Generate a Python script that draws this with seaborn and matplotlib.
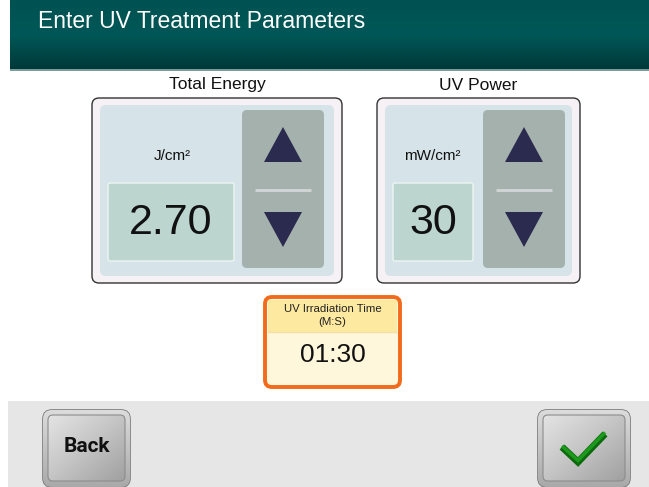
import numpy as np
import matplotlib
matplotlib.use("Agg")
import matplotlib.pyplot as plt
from matplotlib.patches import FancyBboxPatch, Rectangle, Polygon
import seaborn as sns

# screen content
title = "Enter UV Treatment Parameters"
panel_labels = ["Total Energy", "UV Power"]
panel_units = ["J/cm²", "mW/cm²"]
panel_values = ["2.70", "30"]
time_label = ["UV Irradiation Time", "(M:S)"]
time_value = "01:30"
back_label = "Back"

sns.set_theme(style="white")
plt.rcParams["font.family"] = ["Liberation Sans", "DejaVu Sans"]

W, H = 649, 487
fig = plt.figure(figsize=(W / 100, H / 100), dpi=100)
ax = fig.add_axes([0, 0, 1, 1])
ax.set_xlim(0, W)
ax.set_ylim(H, 0)
ax.axis("off")


def rbox(x0, y0, x1, y1, r, fc, ec="none", lw=0, z=1):
    p = FancyBboxPatch((x0 + r, y0 + r), (x1 - x0) - 2 * r, (y1 - y0) - 2 * r,
                       boxstyle=f"round,pad={r}", fc=fc, ec=ec, lw=lw, zorder=z)
    ax.add_patch(p)
    return p


def gradient(x0, y0, x1, y1, stops, z=1, clip=None, diag=False):
    n = 128
    t = np.linspace(0, 1, n)
    if diag:
        g = (t[None, :] + t[:, None]) / 2
    else:
        g = np.repeat(t[:, None], n, axis=1)
    cmap = matplotlib.colors.LinearSegmentedColormap.from_list("g", stops)
    im = ax.imshow(cmap(g), extent=(x0, x1, y1, y0), aspect="auto", zorder=z,
                   interpolation="bilinear")
    if clip is not None:
        im.set_clip_path(clip)
    return im


# header
gradient(10, 0, W, 70, [(0, "#005252"), (0.5, "#005757"), (1, "#003838")], z=1)
ax.add_patch(Rectangle((10, 69), W - 10, 2, fc="#7a9c9a", ec="none", zorder=2))
ax.text(38, 21.5, title, color="white", fontsize=16.5, va="center", ha="left", zorder=3)

# parameter panels
panels = [
    dict(outer=(92, 98, 342, 283), vbox=(108, 183, 234, 261), arrows=(242, 110, 324, 268), unit_x=172),
    dict(outer=(377, 98, 580, 283), vbox=(393, 183, 473, 261), arrows=(483, 110, 565, 268), unit_x=432),
]
for p, lab, unit, val in zip(panels, panel_labels, panel_units, panel_values):
    x0, y0, x1, y1 = p["outer"]
    rbox(x0, y0, x1, y1, 7, "#f6f1f5", ec="#333333", lw=1.0, z=2)
    rbox(x0 + 8, y0 + 7, x1 - 8, y1 - 7, 6, "#d6e3e8", z=3)
    ax.text((x0 + x1) / 2, 85, lab, fontsize=12.5, ha="center", va="center", color="#111111", zorder=4)
    ax.text(p["unit_x"], 156, unit, fontsize=11, ha="center", va="center", color="#111111", zorder=4)
    vx0, vy0, vx1, vy1 = p["vbox"]
    rbox(vx0, vy0, vx1, vy1, 2, "#bcd6cf", ec="#eef5f3", lw=1.0, z=4)
    ax.text((vx0 + vx1) / 2, (vy0 + vy1) / 2 + 1, val, fontsize=31, ha="center", va="center",
            color="#111111", zorder=5)
    ax0, ay0, ax1, ay1 = p["arrows"]
    rbox(ax0, ay0, ax1, ay1, 5, "#a5b1ad", z=4)
    cx = (ax0 + ax1) / 2
    ax.add_patch(Polygon([(cx, 127), (cx - 19, 162), (cx + 19, 162)], closed=True,
                         fc="#2b2a4f", ec="none", zorder=5))
    ax.add_patch(Polygon([(cx, 247), (cx - 19, 212), (cx + 19, 212)], closed=True,
                         fc="#2b2a4f", ec="none", zorder=5))
    ax.plot([ax0 + 13, ax1 - 13], [190, 190], color="#d2d6d6", lw=2, zorder=5, solid_capstyle="butt")

# irradiation time box
rbox(265, 297, 400, 387, 7, "#fff7dc", ec="#f26a1c", lw=2.8, z=2)
ax.add_patch(Rectangle((268, 300), 129, 32, fc="#fde9a0", ec="none", zorder=3))
ax.plot([268, 397], [332, 332], color="#f3e0a8", lw=1, zorder=3)
ax.text(332.5, 309, time_label[0], fontsize=8.2, ha="center", va="center", color="#222222", zorder=4)
ax.text(332.5, 322, time_label[1], fontsize=8.2, ha="center", va="center", color="#222222", zorder=4)
ax.text(332.5, 355, time_value, fontsize=19, ha="center", va="center", color="#111111", zorder=4)

# bottom bar
ax.add_patch(Rectangle((8, 401), W - 8, H - 401, fc="#e6e6e6", ec="none", zorder=1))

for bx0, bx1 in [(43, 130), (538, 630)]:
    outer = rbox(bx0, 410, bx1, 487, 9, "#bdbdbd", ec="#7a7a7a", lw=1.2, z=2)
    gradient(bx0, 410, bx1, 487, ["#dcdcdc", "#a9a9a9"], z=3, clip=outer)
    rbox(bx0 + 5, 415, bx1 - 5, 481, 5, "none", ec="#8c8c8c", lw=0.8, z=4)
    face = rbox(bx0 + 5, 415, bx1 - 5, 481, 5, "#cccccc", z=3.5)
    gradient(bx0 + 5, 415, bx1 - 5, 481, ["#e4e4e4", "#c4c4c4", "#a0a0a0"], z=3.6, clip=face, diag=True)

ax.text(86.5, 446, back_label, fontsize=15, fontweight="bold", ha="center", va="center",
        color="#111111", zorder=6, family=["Roboto", "DejaVu Sans"], stretch="condensed")
ax.plot([562, 578, 605], [447, 462, 434], color="#0b6a0b", lw=5, zorder=6,
        solid_capstyle="butt", solid_joinstyle="miter")
ax.plot([562, 578, 605], [446, 460.5, 432.5], color="#1d9a1d", lw=2.5, zorder=7,
        solid_capstyle="butt", solid_joinstyle="miter")

fig.savefig("out.png", dpi=100)
